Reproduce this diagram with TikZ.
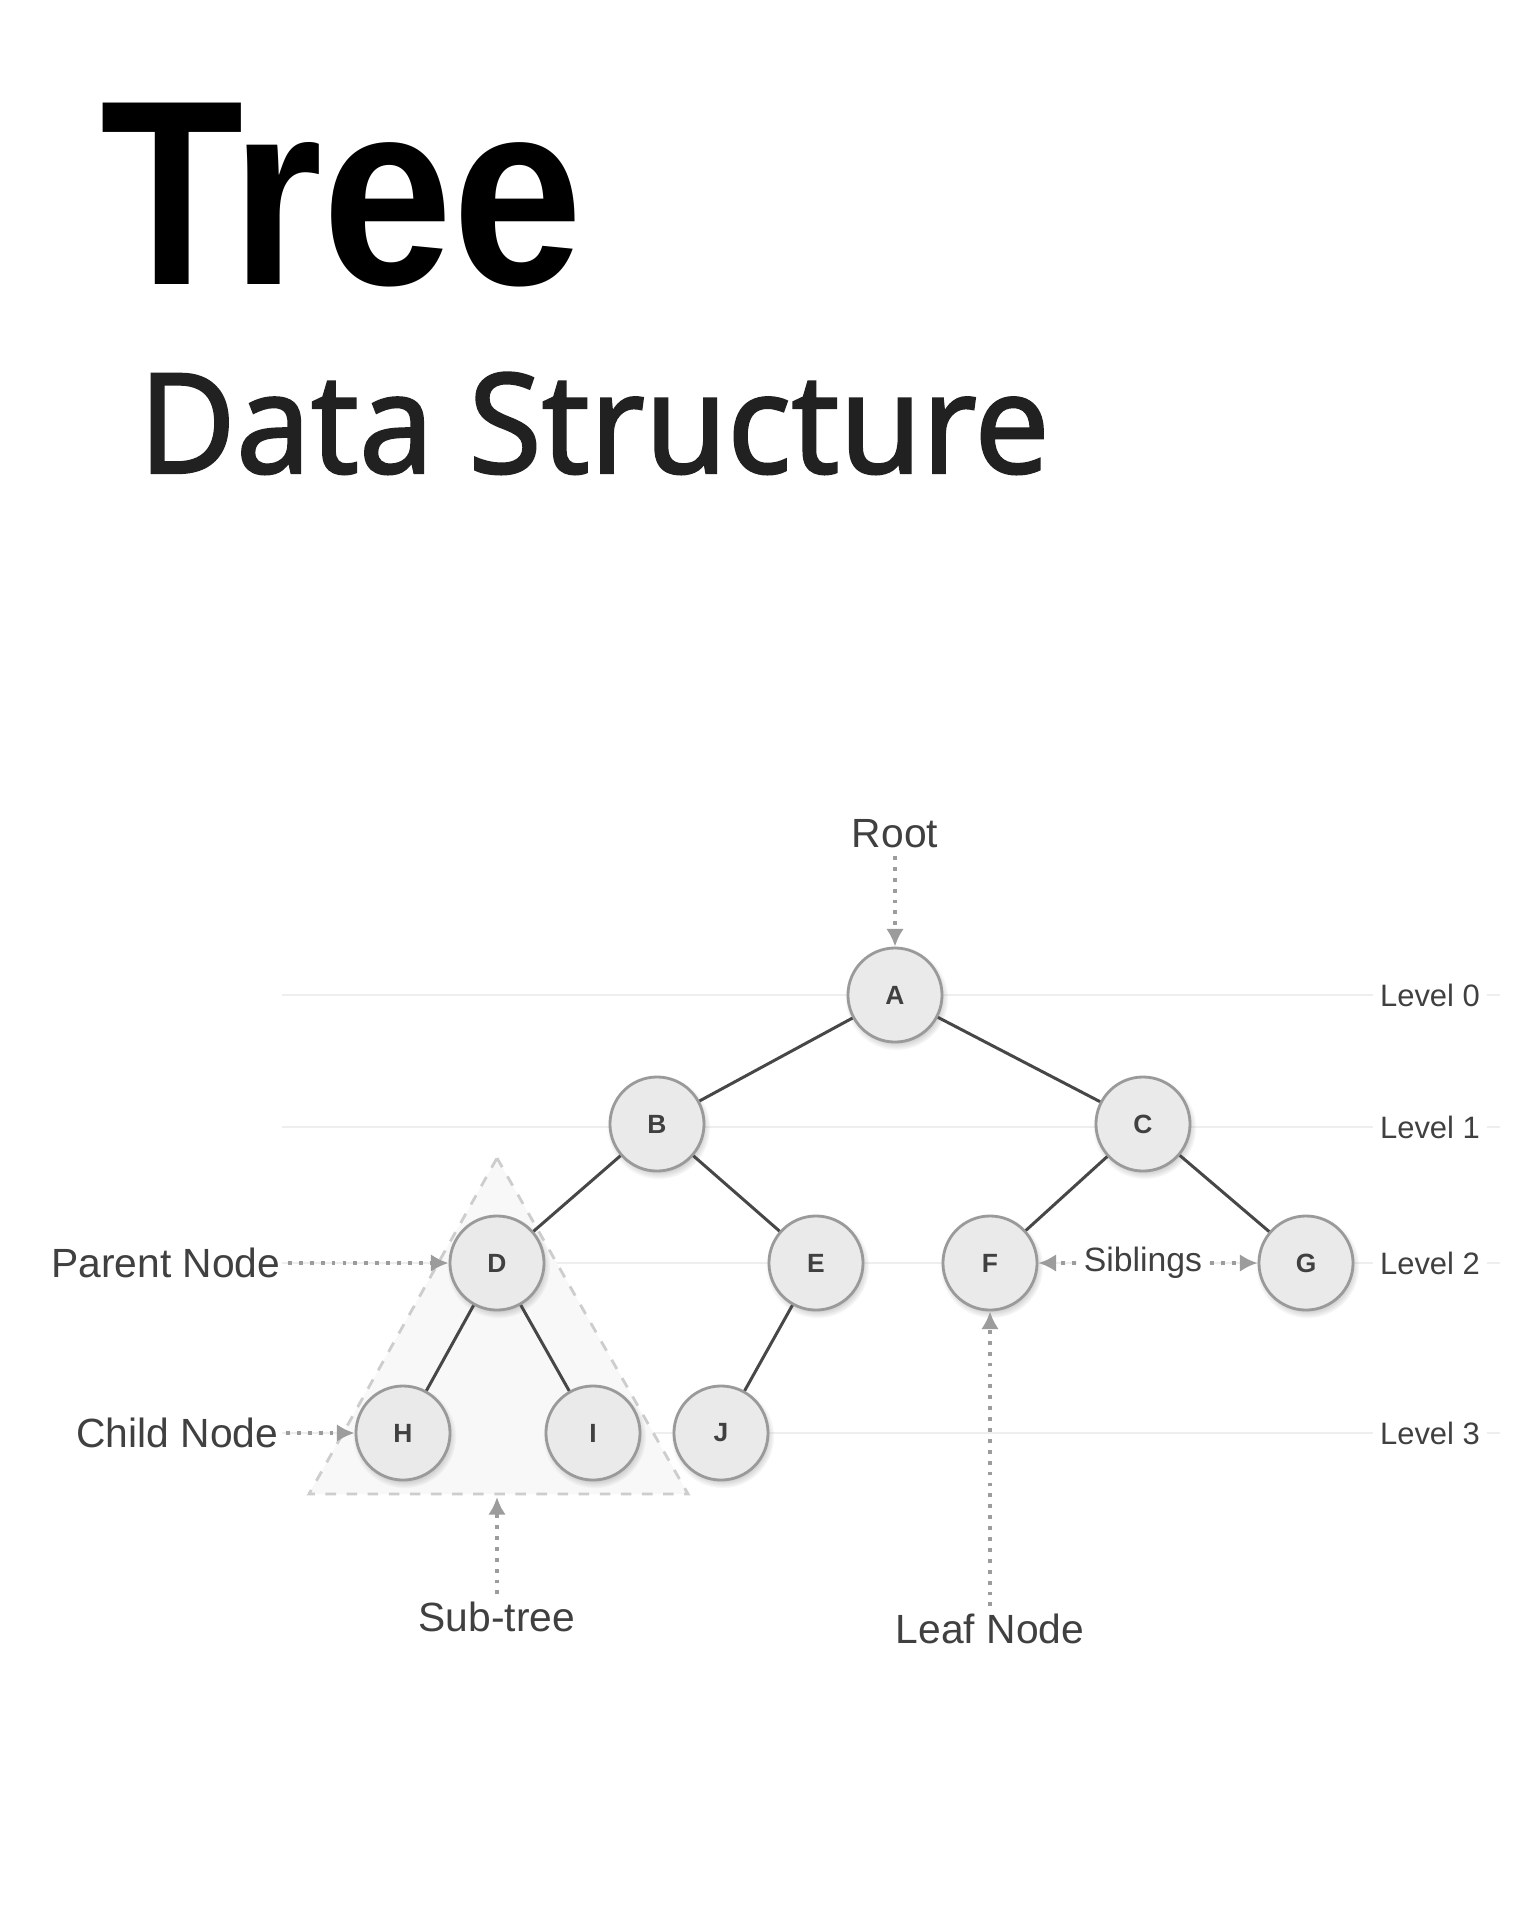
\documentclass[tikz,border=0pt]{standalone}
\usepackage{fontspec}
\setmainfont{Liberation Sans}
\newfontfamily\subtitlefont{Noto Sans}[FakeBold=1.6]
\usetikzlibrary{arrows.meta,positioning,shadows}
\definecolor{nodefill}{HTML}{EAEAEA}
\definecolor{nodeline}{HTML}{9A9A9A}
\definecolor{branchcol}{HTML}{474747}
\definecolor{levelcol}{HTML}{EEEEEE}
\definecolor{labelcol}{HTML}{404040}
\definecolor{pointcol}{HTML}{9C9C9C}
\definecolor{subfill}{HTML}{F8F8F8}
\definecolor{subline}{HTML}{CDCDCD}
\tikzset{treenode/.style={circle, draw=nodeline, fill=nodefill, line width=0.8pt,
  minimum size=0.94cm, inner sep=0pt, text=labelcol,
  font=\bfseries\fontsize{7.5}{9}\selectfont,
  circular drop shadow={shadow xshift=0.4pt, shadow yshift=-0.9pt, opacity=0.35}},
branch/.style={draw=branchcol, line width=0.85pt},
levelline/.style={draw=levelcol, line width=0.8pt},
levellabel/.style={fill=white, inner sep=2pt, text=labelcol, font=\fontsize{8.8}{10}\selectfont},
notelabel/.style={inner sep=2pt, text=labelcol, font=\fontsize{11.6}{13}\selectfont},
pointer/.style={draw=pointcol, line width=1.1pt, dotted, -{Latex[length=5pt,width=5pt]}}}

\begin{document}
\begin{tikzpicture}[x=0.01cm, y=-0.01cm]
\fill[white] (0,0) rectangle (1536,1920);
\useasboundingbox (0,0) rectangle (1536,1920);
% title
\node[anchor=base west, inner sep=0pt, xscale=0.89, font=\bfseries\fontsize{75}{80}\selectfont] (title) at (100,284) {Tree};
\node[anchor=base west, inner sep=0pt, xscale=0.96, text=black!87, font=\subtitlefont\fontsize{39.5}{44}\selectfont] (subtitle) at (138,473) {Data Structure};

% levels
\foreach \lvl/\yy in {0/995,1/1127,2/1263,3/1433}
  {\draw[levelline] (282,\yy) -- (1500,\yy);
   \node[levellabel] (lev\lvl) at (1430,\yy) {Level \lvl};}

% sub-tree
\coordinate (stop) at (497,1158);
\coordinate (sleft) at (309,1494);
\coordinate (sright) at (688,1494);
\coordinate (sbase) at (497,1497);
\filldraw[fill=subfill, draw=subline, line width=0.8pt, dashed] (stop) -- (sright) -- (sleft) -- cycle;

% nodes
\node[treenode] (A) at (895,995) {A};
\node[treenode] (B) at (657,1124) {B};
\node[treenode] (C) at (1143,1124) {C};
\node[treenode] (D) at (497,1263) {D};
\node[treenode] (E) at (816,1263) {E};
\node[treenode] (F) at (990,1263) {F};
\node[treenode] (G) at (1306,1263) {G};
\node[treenode] (H) at (403,1433) {H};
\node[treenode] (I) at (593,1433) {I};
\node[treenode] (J) at (721,1433) {J};

\draw[branch] (A) -- (B);
\draw[branch] (A) -- (C);
\draw[branch] (B) -- (D);
\draw[branch] (B) -- (E);
\draw[branch] (C) -- (F);
\draw[branch] (C) -- (G);
\draw[branch] (D) -- (H);
\draw[branch] (D) -- (I);
\draw[branch] (E) -- (J);

% labels
\node[notelabel] (lroot) at (895,834) {Root};
\node[notelabel, anchor=east] (lparent) at (288,1263) {Parent Node};
\node[notelabel, anchor=east] (lchild) at (286,1433) {Child Node};
\node[notelabel] (lsub) at (497,1617) {Sub-tree};
\node[notelabel] (lleaf) at (990,1629) {Leaf Node};
\node[levellabel, font=\fontsize{9.6}{11}\selectfont] (lsib) at (1143,1263) {Siblings};

\draw[pointer] (lroot) -- (A);
\draw[pointer] (lparent) -- (D);
\draw[pointer] (lchild) -- (H);
\draw[pointer] (lsub) -- (sbase);
\draw[pointer] (lleaf) -- (F);
\draw[pointer] (lsib) -- (F);
\draw[pointer] (lsib) -- (G);
\end{tikzpicture}
\end{document}
